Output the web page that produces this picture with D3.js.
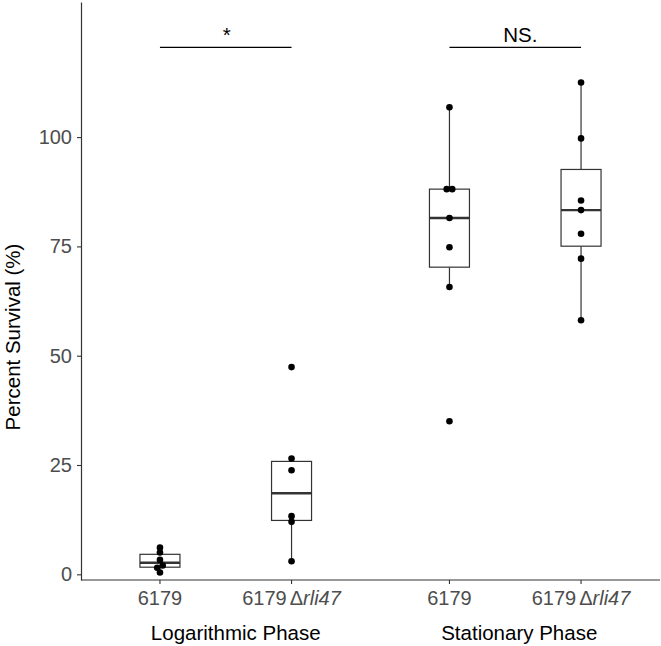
<!DOCTYPE html>
<html>
<head>
<meta charset="utf-8">
<script src="https://cdn.jsdelivr.net/npm/d3@7"></script>
<style>
  body { margin: 0; background: #fff; }
  text { font-family: "Liberation Sans", Arial, sans-serif; }
</style>
</head>
<body>
<div id="chart"></div>
<script type="text/javascript">
  const width = 661,
    height = 646,
    margin = {top: 2, right: 1, bottom: 66, left: 81};

  // data
  const phases = ["Logarithmic Phase", "Stationary Phase"];
  const strains = ["6179", "6179\u0394rli47"];
  const logWT = [0.4, 1.5, 2.0, 3.3, 5.0, 6.1];
  const logMut = [3.0, 12.0, 13.3, 23.8, 26.5, 47.4];
  const statWT = [35.0, 65.7, 74.8, 81.5, 88.1, 88.1, 106.8];
  const statMut = [58.1, 72.2, 77.9, 83.3, 85.5, 99.7, 112.5];
  const sigLabels = ["*", "NS."];
  const sigLevel = 120.5;
  const yTicks = [0, 25, 50, 75, 100];

  const groups = [
    {phase: phases[0], strain: strains[0], values: logWT},
    {phase: phases[0], strain: strains[1], values: logMut},
    {phase: phases[1], strain: strains[0], values: statWT},
    {phase: phases[1], strain: strains[1], values: statMut}
  ];

  const svg = d3.select("#chart").append("svg")
    .attr("width", width)
    .attr("height", height);

  const y = d3.scaleLinear()
    .domain([-1.3, 130.9])
    .range([height - margin.bottom, margin.top]);

  const outer = d3.scalePoint()
    .domain(phases)
    .range([margin.left, width - margin.right])
    .padding(0.5);

  const inner = d3.scalePoint()
    .domain(strains)
    .range([-outer.step() / 2, outer.step() / 2])
    .padding(0.6);

  const xPos = function(d) { return outer(d.phase) + inner(d.strain); };
  const boxW = 40;

  // y axis
  const yAxis = svg.append("g")
    .attr("transform", "translate(" + margin.left + ",0)")
    .call(d3.axisLeft(y).tickValues(yTicks).tickSize(4).tickSizeOuter(0).tickPadding(5));
  yAxis.select(".domain").attr("stroke", "#333").attr("stroke-width", 1.2);
  yAxis.selectAll(".tick line").attr("stroke", "#333").attr("stroke-width", 1.1);
  yAxis.selectAll(".tick text")
    .attr("fill", "#4d4d4d")
    .style("font-size", "20px")
    .style("font-family", "'Liberation Sans', Arial, sans-serif");

  // x axis (drawn by hand, ticks sit inside nested groups)
  const y0 = y.range()[0];
  svg.append("line")
    .attr("x1", margin.left).attr("x2", width - margin.right)
    .attr("y1", y0).attr("y2", y0)
    .attr("stroke", "#333").attr("stroke-width", 1.2);

  const xt = svg.append("g").selectAll("g")
    .data(groups)
    .enter().append("g")
    .attr("transform", function(d) { return "translate(" + xPos(d) + "," + y0 + ")"; });
  xt.append("line").attr("y2", 4).attr("stroke", "#333").attr("stroke-width", 1.1);
  const xtText = xt.append("text")
    .attr("y", 25)
    .attr("text-anchor", "middle")
    .attr("fill", "#4d4d4d")
    .style("font-size", "20px");
  xtText.each(function(d) {
    const t = d3.select(this);
    if (d.strain === strains[0]) {
      t.text(d.strain);
    } else {
      t.append("tspan").text("6179");
      t.append("tspan").attr("dx", 3).text("\u0394");
      t.append("tspan").style("font-style", "italic").text("rli47");
    }
  });

  // axis titles
  svg.selectAll(".phase-title")
    .data(phases)
    .enter().append("text")
    .attr("class", "phase-title")
    .attr("x", function(d, i) { return outer(d) + (i === 0 ? 10 : 4); })
    .attr("y", 640)
    .attr("text-anchor", "middle")
    .attr("fill", "#000")
    .style("font-size", "20.5px")
    .text(function(d) { return d; });

  svg.append("text")
    .attr("transform", "translate(19.5,337) rotate(-90)")
    .attr("text-anchor", "middle")
    .attr("fill", "#000")
    .style("font-size", "20.5px")
    .text("Percent Survival (%)");

  // boxplots
  groups.forEach(function(g) {
    const v = g.values.slice().sort(d3.ascending);
    g.q1 = d3.quantile(v, 0.25);
    g.med = d3.quantile(v, 0.5);
    g.q3 = d3.quantile(v, 0.75);
    const iqr = g.q3 - g.q1;
    g.lo = d3.min(v.filter(function(e) { return e >= g.q1 - 1.5 * iqr; }));
    g.hi = d3.max(v.filter(function(e) { return e <= g.q3 + 1.5 * iqr; }));
  });

  const boxes = svg.append("g").selectAll("g")
    .data(groups)
    .enter().append("g");

  boxes.append("line")
    .attr("x1", xPos).attr("x2", xPos)
    .attr("y1", function(d) { return y(d.hi); })
    .attr("y2", function(d) { return y(d.q3); })
    .attr("stroke", "#333").attr("stroke-width", 1.2);
  boxes.append("line")
    .attr("x1", xPos).attr("x2", xPos)
    .attr("y1", function(d) { return y(d.q1); })
    .attr("y2", function(d) { return y(d.lo); })
    .attr("stroke", "#333").attr("stroke-width", 1.2);
  boxes.append("rect")
    .attr("x", function(d) { return xPos(d) - boxW / 2; })
    .attr("width", boxW)
    .attr("y", function(d) { return y(d.q3); })
    .attr("height", function(d) { return y(d.q1) - y(d.q3); })
    .attr("fill", "#fff")
    .attr("stroke", "#333").attr("stroke-width", 1.2);
  boxes.append("line")
    .attr("x1", function(d) { return xPos(d) - boxW / 2; })
    .attr("x2", function(d) { return xPos(d) + boxW / 2; })
    .attr("y1", function(d) { return y(d.med); })
    .attr("y2", function(d) { return y(d.med); })
    .attr("stroke", "#333").attr("stroke-width", 2.4);

  // dots, stacked side by side when they fall in the same bin (dotplot style)
  const dots = [];
  groups.forEach(function(g) {
    const v = g.values.slice().sort(d3.ascending);
    let bin = [];
    const flush = function() {
      bin.forEach(function(e, i) {
        dots.push({cx: xPos(g) + (i - (bin.length - 1) / 2) * 5.5, cy: y(e)});
      });
      bin = [];
    };
    v.forEach(function(e) {
      if (bin.length && Math.abs(y(e) - y(bin[0])) > 3) flush();
      bin.push(e);
    });
    flush();
  });

  svg.append("g").selectAll("circle")
    .data(dots)
    .enter().append("circle")
    .attr("cx", function(d) { return d.cx; })
    .attr("cy", function(d) { return d.cy; })
    .attr("r", 3.3)
    .attr("fill", "#000");

  // significance bars
  const sig = svg.append("g").selectAll("g")
    .data(phases)
    .enter().append("g");
  sig.append("line")
    .attr("x1", function(d) { return outer(d) + inner(strains[0]); })
    .attr("x2", function(d) { return outer(d) + inner(strains[1]); })
    .attr("y1", y(sigLevel))
    .attr("y2", y(sigLevel))
    .attr("stroke", "#000").attr("stroke-width", 1.3);
  sig.append("text")
    .attr("x", function(d, i) { return outer(d) + (i === 0 ? 1 : 5); })
    .attr("y", y(sigLevel) - 5.5)
    .attr("text-anchor", "middle")
    .attr("fill", "#000")
    .style("font-size", "20.5px")
    .text(function(d, i) { return sigLabels[i]; });
</script>
</body>
</html>
